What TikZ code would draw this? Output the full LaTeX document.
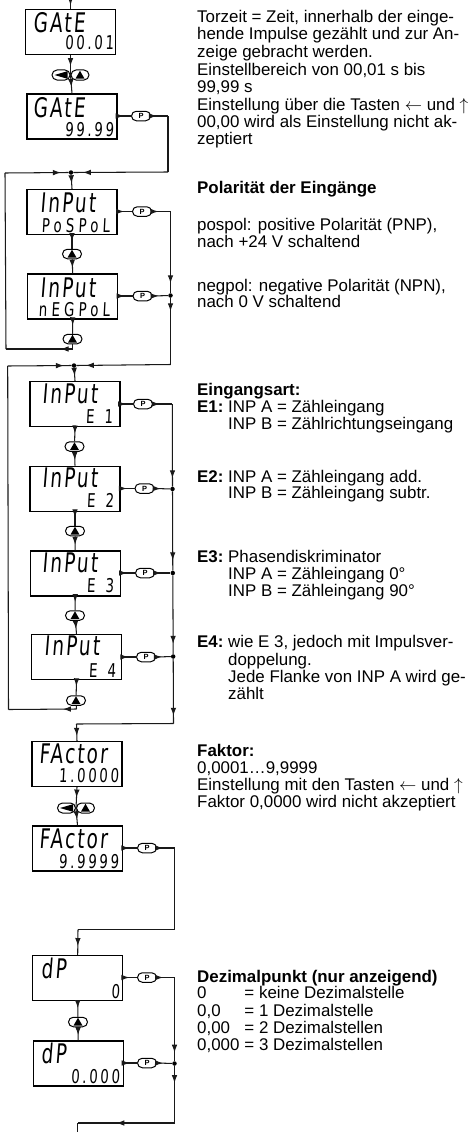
\documentclass[tikz,border=0pt]{standalone}
\usepackage{fontspec}
\setmainfont{Liberation Sans}
\newfontfamily\lcdtop[FakeStretch=0.68,FakeSlant=0.08,LetterSpace=8]{DejaVu Sans}
\newfontfamily\lcdbot[FakeStretch=0.7,FakeSlant=0.05,LetterSpace=14]{DejaVu Sans}
\newfontfamily\lcdwide[FakeStretch=0.7,FakeSlant=0.05,LetterSpace=22]{DejaVu Sans}
\newfontfamily\lcdnar[FakeStretch=0.7,FakeSlant=0.05,LetterSpace=2,WordSpace=2.2]{DejaVu Sans}
\usetikzlibrary{arrows.meta,decorations.markings,shapes.misc}
\newcommand{\fs}{\fontsize{16.9pt}{17pt}\selectfont}
\tikzset{
 x=1pt,y=-1pt,
 wire/.style={line width=1.05pt,black!90},
 tip/.style={postaction={decorate},decoration={markings,mark=at position #1 with {\arrow{Latex[length=8pt,width=5.6pt]}}}},
 lcdbox/.style={draw,line width=1.2pt,minimum width=90pt,minimum height=45pt,inner sep=0pt},
 lcdt/.style={inner sep=0pt,anchor=base west,font=\lcdtop\fontsize{27pt}{27pt}\selectfont},
 lcdb/.style={inner sep=0pt,anchor=base east,font=\lcdbot\fontsize{19pt}{19pt}\selectfont},
 lcdw/.style={lcdb,font=\lcdwide\fontsize{19pt}{19pt}\selectfont},
 lcdn/.style={lcdb,font=\lcdnar\fontsize{19pt}{19pt}\selectfont},
 oval/.style={draw,rounded rectangle,line width=1pt,minimum width=19pt,minimum height=9.5pt,inner sep=0pt},
 pkey/.style={oval,font=\bfseries\fontsize{7.5pt}{8pt}\selectfont},
 dotj/.style={circle,fill=black,inner sep=0pt,minimum size=4.5pt},
 txt/.style={inner sep=0pt,anchor=base west,font=\fs},
 hd/.style={txt,font=\fs\bfseries},
}
\newcommand{\upkey}[3]{\node[oval] (#1) at (#2,#3) {};
 \fill (#2-4.5,#3+3.6) -- (#2+4.5,#3+3.6) -- (#2,#3-4.2) -- cycle;}
\newcommand{\dblkey}[3]{\node[oval,minimum width=18pt,minimum height=10pt] (#1l) at (#2-9.5,#3) {};
 \node[oval,minimum width=18pt,minimum height=10pt] (#1r) at (#2+9.5,#3) {};
 \coordinate (#1) at (#2,#3);
 \fill (#2-16,#3) -- (#2-3,#3-3.8) -- (#2-3,#3+3.8) -- cycle;
 \fill (#2+5,#3+3.6) -- (#2+14,#3+3.6) -- (#2+9.5,#3-4.2) -- cycle;}
\begin{document}
\begin{tikzpicture}
\useasboundingbox (0,0) rectangle (474,1132);
% boxes
\node[lcdbox] (g1) at (70.5,32.2) {};
\node[lcdbox] (g2) at (72,116.5) {};
\node[lcdbox] (i1) at (72,212) {};
\node[lcdbox] (i2) at (72.7,296.5) {};
\node[lcdbox] (e1) at (75,404) {};
\node[lcdbox] (e2) at (75,488.7) {};
\node[lcdbox] (e3) at (75.2,573.5) {};
\node[lcdbox] (e4) at (76.5,657.2) {};
\node[lcdbox] (f1) at (77,764) {};
\node[lcdbox] (f2) at (77.5,848.5) {};
\node[lcdbox] (d1) at (77.7,978) {};
\node[lcdbox] (d2) at (78.2,1063.5) {};
% display texts
\node[lcdt] (g1a) at (33,33) {GAtE};
\node[lcdb] (g1b) at (114,50) {00.01};
\node[lcdt] (g2a) at (33,117) {GAtE};
\node[lcdb] (g2b) at (114,136) {99.99};
\node[lcdt] (i1a) at (40,212) {InPut};
\node[lcdw] (i1b) at (110,232) {PoSPoL};
\node[lcdt] (i2a) at (40,297) {InPut};
\node[lcdw] (i2b) at (110,316) {nEGPoL};
\node[lcdt] (e1a) at (42,403) {InPut};
\node[lcdn] (e1b) at (113,423) {E 1};
\node[lcdt] (e2a) at (42,487) {InPut};
\node[lcdn] (e2b) at (114,507) {E 2};
\node[lcdt] (e3a) at (42,572) {InPut};
\node[lcdn] (e3b) at (114,592) {E 3};
\node[lcdt] (e4a) at (44,655) {InPut};
\node[lcdn] (e4b) at (116,677) {E 4};
\node[lcdt] (f1a) at (39,763) {FActor};
\node[lcdb] (f1b) at (119,782) {1.0000};
\node[lcdt] (f2a) at (39,848) {FActor};
\node[lcdb] (f2b) at (119,868) {9.9999};
\node[lcdt] (d1a) at (41,978) {dP};
\node[lcdb] (d1b) at (120,998) {0};
\node[lcdt] (d2a) at (41,1063) {dP};
\node[lcdb] (d2b) at (120,1083) {0.000};
% keys
\dblkey{k1}{70.5}{75}
\dblkey{k7}{76}{808}
\upkey{k2}{72}{254}
\upkey{k3}{72.5}{339}
\upkey{k4}{74.5}{446.5}
\upkey{k5}{75}{531}
\upkey{k6}{75}{615.5}
\upkey{k8}{76}{700.5}
\upkey{k9}{78}{1022}
\foreach \n/\x/\y in {g2/141/116,i1/142/211.5,i2/142.5/296,e1/143/404,e2/144.5/488.5,e3/145/573,e4/146/657,f2/147/848,d1/147/977.5,d2/147/1063}
  \node[pkey] (p\n) at (\x,\y) {P};
% junctions and corners
\node[dotj] (j1) at (71,172.5) {};
\node[dotj] (j2) at (74,365.5) {};
\node[dotj] (ji2) at (170.5,295.5) {};
\node[dotj] (je2) at (172.5,489) {};
\node[dotj] (je3) at (172.8,573) {};
\node[dotj] (je4) at (173.2,656.5) {};
\node[dotj] (jd2) at (174.5,1063.5) {};
\coordinate (top) at (70.5,0);
\coordinate (c1) at (168,116);
\coordinate (c2) at (168,172);
\coordinate (c3) at (170.5,211.5);
\coordinate (c4) at (170.5,364.5);
\coordinate (l1) at (72.5,349);
\coordinate (l2) at (6,349);
\coordinate (l3) at (5,173);
\coordinate (c5) at (172.3,404);
\coordinate (c6) at (173.5,723.5);
\coordinate (c7) at (76.5,724);
\coordinate (m1) at (76.5,709);
\coordinate (m2) at (8.5,709.5);
\coordinate (m3) at (7.7,366);
\coordinate (c8) at (174.5,848);
\coordinate (c9) at (174.5,929.5);
\coordinate (c10) at (78,929.5);
\coordinate (c11) at (174.5,977.5);
\coordinate (c12) at (174.5,1123);
\coordinate (c13) at (77.5,1123);
\coordinate (c14) at (77.5,1132);
% wires
\draw[wire,tip=0.6] (top) -- (g1.north);
\draw[wire,tip=0.55] (g1.south) -- (k1);
\draw[wire,tip=0.65] (k1) -- (g2.north);
\draw[wire,tip=0.45] (g2.east |- pg2.west) -- (pg2.west);
\draw[wire,tip=0.35] (pg2.east) -- (c1);
\draw[wire] (c1) -- (c2);
\draw[wire,tip=0.9] (c2) -- (j1.east);
\draw[wire,tip=0.6] (j1) -- (i1.north);
\draw[wire,tip=0.45] (i1.south) -- (k2);
\draw[wire,tip=0.6] (k2) -- (i2.north);
\draw[wire,tip=0.4] (i2.south) -- (k3);
\draw[wire] (k3) -- (l1);
\draw[wire,tip=0.18] (l1) -- (l2);
\draw[wire] (l2) -- (l3);
\draw[wire,tip=0.88] (l3) -- (j1.west);
\draw[wire,tip=0.45] (i1.east |- pi1.west) -- (pi1.west);
\draw[wire,tip=0.35] (pi1.east) -- (c3);
\draw[wire,tip=0.88] (c3) -- (ji2.north);
\draw[wire,tip=0.45] (i2.east |- pi2.west) -- (pi2.west);
\draw[wire,tip=0.4] (pi2.east) -- (ji2);
\draw[wire,tip=0.2] (ji2) -- (c4);
\draw[wire,tip=0.9] (c4) -- (j2.east);
\draw[wire,tip=0.6] (j2) -- (e1.north);
\draw[wire,tip=0.45] (e1.south) -- (k4);
\draw[wire,tip=0.6] (k4) -- (e2.north);
\draw[wire,tip=0.4] (e2.south) -- (k5);
\draw[wire,tip=0.6] (k5) -- (e3.north);
\draw[wire,tip=0.4] (e3.south) -- (k6);
\draw[wire,tip=0.6] (k6) -- (e4.north);
\draw[wire,tip=0.4] (e4.south) -- (k8);
\draw[wire] (k8) -- (m1);
\draw[wire,tip=0.2] (m1) -- (m2);
\draw[wire] (m2) -- (m3);
\draw[wire,tip=0.88] (m3) -- (j2.west);
\foreach \b in {e1,e2,e3,e4}
  \draw[wire,tip=0.45] (\b.east |- p\b.west) -- (p\b.west);
\draw[wire,tip=0.35] (pe1.east) -- (c5);
\draw[wire,tip=0.4] (pe2.east) -- (je2);
\draw[wire,tip=0.4] (pe3.east) -- (je3);
\draw[wire,tip=0.4] (pe4.east) -- (je4);
\draw[wire,tip=0.9] (c5) -- (je2);
\draw[wire,tip=0.87] (je2) -- (je3);
\draw[wire,tip=0.87] (je3) -- (je4);
\draw[wire,tip=0.88] (je4) -- (c6);
\draw[wire] (c6) -- (c7);
\draw[wire,tip=0.7] (c7) -- (f1.north);
\draw[wire,tip=0.5] (f1.south) -- (k7);
\draw[wire,tip=0.65] (k7) -- (f2.north);
\draw[wire,tip=0.45] (f2.east |- pf2.west) -- (pf2.west);
\draw[wire,tip=0.35] (pf2.east) -- (c8);
\draw[wire] (c8) -- (c9) -- (c10);
\draw[wire,tip=0.65] (c10) -- (d1.north);
\draw[wire,tip=0.45] (d1.south) -- (k9);
\draw[wire,tip=0.6] (k9) -- (d2.north);
\draw[wire,tip=0.45] (d1.east |- pd1.west) -- (pd1.west);
\draw[wire,tip=0.35] (pd1.east) -- (c11);
\draw[wire,tip=0.9] (c11) -- (jd2);
\draw[wire,tip=0.45] (d2.east |- pd2.west) -- (pd2.west);
\draw[wire,tip=0.4] (pd2.east) -- (jd2);
\draw[wire,tip=0.3] (jd2) -- (c12);
\draw[wire,tip=0.6] (c12) -- (c13);
\draw[wire] (c13) -- (c14);
% text
\node[txt] (t1) at (197,23) {Torzeit = Zeit, innerhalb der einge-};
\node[txt] (t2) at (197,40) {hende Impulse gezählt und zur An-};
\node[txt] (t3) at (197,57.5) {zeige gebracht werden.};
\node[txt] (t4) at (197,75) {Einstellbereich von 00,01 s bis};
\node[txt] (t5) at (197,92.5) {99,99 s};
\node[txt] (t6) at (197,110) {Einstellung über die Tasten $\leftarrow$ und $\uparrow$};
\node[txt] (t7) at (197,127) {00,00 wird als Einstellung nicht ak-};
\node[txt] (t8) at (197,144.5) {zeptiert};
\node[hd] (t9) at (197,193.5) {Polarität der Eingänge};
\node[txt] (t10) at (197,230) {pospol: positive Polarität (PNP),};
\node[txt] (t11) at (197,247) {nach +24 V schaltend};
\node[txt] (t12) at (197,291) {negpol: negative Polarität (NPN),};
\node[txt] (t13) at (197,307.5) {nach 0 V schaltend};
\node[hd] (t14) at (197,395) {Eingangsart:};
\node[txt] (t15) at (197,412) {\makebox[31pt][l]{\textbf{E1:}}INP A = Zähleingang};
\node[txt] (t16) at (228,429) {INP B = Zählrichtungseingang};
\node[txt] (t17) at (197,482) {\makebox[31pt][l]{\textbf{E2:}}INP A = Zähleingang add.};
\node[txt] (t18) at (228,498.5) {INP B = Zähleingang subtr.};
\node[txt] (t19) at (197,562) {\makebox[31pt][l]{\textbf{E3:}}Phasendiskriminator};
\node[txt] (t20) at (228,579) {INP A = Zähleingang 0°};
\node[txt] (t21) at (228,596) {INP B = Zähleingang 90°};
\node[txt] (t22) at (197,647) {\makebox[31pt][l]{\textbf{E4:}}wie E 3, jedoch mit Impulsver-};
\node[txt] (t23) at (228,665) {doppelung.};
\node[txt] (t24) at (228,682) {Jede Flanke von INP A wird ge-};
\node[txt] (t25) at (228,699) {zählt};
\node[hd] (t26) at (197,756) {Faktor:};
\node[txt] (t27) at (197,773) {0,0001…9,9999};
\node[txt] (t28) at (197,790) {Einstellung mit den Tasten $\leftarrow$ und $\uparrow$};
\node[txt] (t29) at (197,807) {Faktor 0,0000 wird nicht akzeptiert};
\node[hd] (t30) at (197,982) {Dezimalpunkt (nur anzeigend)};
\node[txt] (t31) at (197,998) {\makebox[47.3pt][l]{0}= keine Dezimalstelle};
\node[txt] (t32) at (197,1016) {\makebox[47.3pt][l]{0,0}= 1 Dezimalstelle};
\node[txt] (t33) at (197,1033) {\makebox[47.3pt][l]{0,00}= 2 Dezimalstellen};
\node[txt] (t34) at (197,1050) {\makebox[47.3pt][l]{0,000}= 3 Dezimalstellen};
\end{tikzpicture}
\end{document}
